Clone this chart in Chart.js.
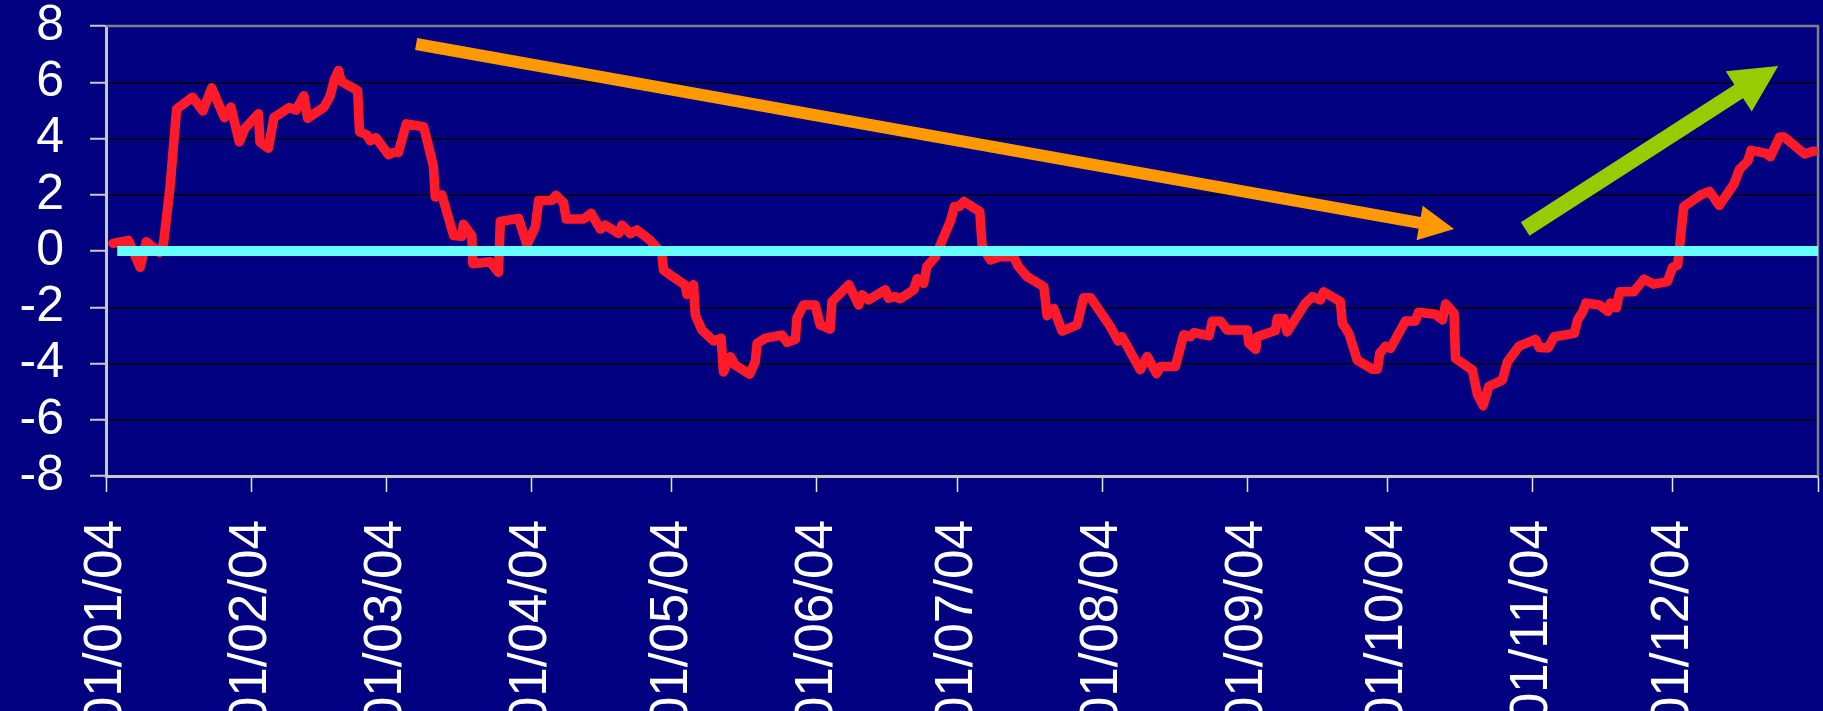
<!DOCTYPE html>
<html>
<head>
<meta charset="utf-8">
<script src="https://cdn.jsdelivr.net/npm/chart.js@4.4.1/dist/chart.umd.min.js"></script>
<style>
html,body{margin:0;padding:0;background:#000080;overflow:hidden;}
canvas{display:block;}
</style>
</head>
<body>
<canvas id="c" width="1823" height="711"></canvas>
<script>
// ---------- DATA (day of year 2004, 0 = 01/01/04) ----------
const days = [
  1.5, 4.8, 7.3, 8.6, 11.4, 12.3, 13.7, 15.1, 18.5, 20.7, 22.6, 25.3, 26.7, 28.5, 29.7,
  32.6, 32.9, 34.7, 35.9, 39.2, 40.6, 42.3, 43.1, 46.6, 47.9, 48.8, 49.7, 50.3, 53.8, 54.2,
  55.8, 56.5, 57.7, 60.4, 61.4, 62.5, 64.2, 67.9, 68.8, 70.0, 70.4, 71.8, 74.3, 76.1, 76.4,
  78.2, 78.4, 82.1, 83.9, 84.3, 88.2, 90.0, 91.8, 92.5, 95.3, 96.2, 97.8, 98.4, 102.1, 103.7,
  105.7, 106.7, 109.6, 110.3, 112.1, 113.5, 116.3, 118.8, 119.2, 120.6, 123.8, 124.2, 125.6, 126.0, 127.4,
  129.9, 131.5, 132.0, 133.5, 134.5, 137.6, 138.8, 139.2, 141.0, 144.5, 145.6, 147.4, 147.7, 149.1, 151.6,
  152.7, 154.8, 155.2, 158.8, 160.9, 161.6, 163.0, 166.6, 167.3, 168.7, 169.8, 172.7, 173.4, 174.8, 175.5,
  177.3, 180.5, 181.4, 182.4, 183.4, 186.8, 187.3, 189.1, 191.2, 194.0, 195.1, 196.9, 200.5, 201.2, 202.6,
  204.4, 207.6, 209.0, 210.5, 214.7, 216.4, 217.2, 221.1, 222.6, 224.6, 225.4, 228.6, 230.4, 231.8, 232.6,
  235.8, 236.5, 238.3, 239.7, 244.0, 244.3, 245.8, 246.1, 250.0, 250.4, 251.8, 252.5, 256.4, 257.9, 259.6,
  260.3, 263.9, 264.3, 265.7, 267.5, 270.7, 271.8, 272.3, 273.6, 274.6, 277.8, 279.9, 280.6, 284.2, 285.7,
  286.4, 288.2, 288.5, 292.1, 293.2, 294.4, 295.6, 298.5, 299.6, 302.1, 305.6, 306.4, 308.3, 309.6, 313.9,
  314.6, 315.7, 316.4, 319.3, 321.1, 321.6, 322.9, 323.6, 326.6, 328.8, 330.9, 333.8, 334.9, 336.0, 337.3,
  341.0, 342.8, 344.9, 348.1, 349.2, 351.0, 351.7, 354.9, 355.8, 357.8, 358.8, 363.1, 364.9, 365.2
];
const values = [
  0.27, 0.38, -0.58, 0.33, -0.06, 0.27, 2.29, 5.05, 5.47, 4.98, 5.80, 4.74, 5.12, 3.88, 4.36,
  4.88, 3.88, 3.65, 4.75, 5.10, 5.01, 5.52, 4.72, 5.11, 5.50, 6.08, 6.42, 6.03, 5.70, 4.24,
  4.12, 3.92, 4.03, 3.43, 3.50, 3.50, 4.52, 4.42, 3.83, 3.00, 1.92, 2.00, 0.55, 0.52, 0.95,
  0.55, -0.45, -0.38, -0.76, 1.05, 1.16, 0.22, 0.86, 1.80, 1.80, 1.98, 1.72, 1.14, 1.14, 1.34,
  0.78, 0.92, 0.62, 0.92, 0.62, 0.75, 0.39, -0.08, -0.68, -0.85, -1.21, -1.55, -1.20, -2.28, -2.81,
  -3.20, -3.10, -4.30, -3.76, -4.05, -4.38, -3.94, -3.28, -3.10, -2.99, -3.25, -3.14, -2.39, -1.92, -1.92,
  -2.63, -2.78, -1.80, -1.20, -1.92, -1.56, -1.74, -1.38, -1.68, -1.62, -1.70, -1.38, -0.98, -1.15, -0.55,
  -0.20, 1.05, 1.58, 1.58, 1.76, 1.40, 0.18, -0.32, -0.20, -0.20, -0.56, -0.91, -1.27, -2.30, -2.04,
  -2.85, -2.63, -1.66, -1.66, -2.69, -3.20, -3.05, -4.22, -3.75, -4.36, -4.11, -4.11, -2.98, -3.05, -2.90,
  -3.02, -2.50, -2.50, -2.81, -2.81, -3.28, -3.50, -3.05, -2.83, -2.40, -2.40, -2.88, -1.86, -1.62, -1.74,
  -1.45, -1.80, -2.57, -2.93, -3.88, -4.20, -4.20, -3.64, -3.38, -3.46, -2.49, -2.49, -2.18, -2.25, -2.45,
  -1.88, -2.22, -3.82, -4.23, -5.10, -5.50, -4.82, -4.59, -3.94, -3.38, -3.14, -3.43, -3.45, -3.05, -2.93,
  -2.45, -2.16, -1.85, -1.92, -2.15, -1.85, -2.02, -1.45, -1.45, -1.00, -1.18, -1.09, -0.58, -0.50, 1.58,
  2.00, 2.12, 1.62, 2.40, 2.90, 3.20, 3.58, 3.47, 3.35, 4.05, 4.05, 3.45, 3.55, 3.55
];
const zeroDays = [2.4, 366];
const zeroValues = [0, 0];

const tickDays = [0, 31, 60, 91, 121, 152, 182, 213, 244, 274, 305, 335, 366];
const tickLabels = ['01/01/04', '01/02/04', '01/03/04', '01/04/04', '01/05/04', '01/06/04',
  '01/07/04', '01/08/04', '01/09/04', '01/10/04', '01/11/04', '01/12/04', ''];

// Annotation arrows, endpoints in data coordinates (day, value)
const arrowFrom = [[66.3, 7.36], [303.4, 0.78]];
const arrowTo = [[288.2, 0.78], [357.5, 6.58]];

// ---------- STYLE ----------
const FONT = "'Liberation Sans', Arial, Helvetica, sans-serif";
const arrowStyles = [
  {color: '#FF9900', shaft: 12, headLen: 35, headHalf: 17.5},
  {color: '#99CC00', shaft: 16, headLen: 47, headHalf: 24}
];

function drawArrow(ctx, x1, y1, x2, y2, st) {
  const dx = x2 - x1, dy = y2 - y1, L = Math.hypot(dx, dy);
  const ux = dx / L, uy = dy / L, nx = -uy, ny = ux;
  const bx = x2 - ux * st.headLen, by = y2 - uy * st.headLen;
  const s = st.shaft / 2, h = st.headHalf;
  ctx.fillStyle = st.color;
  ctx.beginPath();
  ctx.moveTo(x1 + nx * s, y1 + ny * s);
  ctx.lineTo(bx + nx * s, by + ny * s);
  ctx.lineTo(bx + nx * h, by + ny * h);
  ctx.lineTo(x2, y2);
  ctx.lineTo(bx - nx * h, by - ny * h);
  ctx.lineTo(bx - nx * s, by - ny * s);
  ctx.lineTo(x1 - nx * s, y1 - ny * s);
  ctx.closePath();
  ctx.fill();
}

const framePlugin = {
  id: 'frame',
  beforeDatasetsDraw(chart) {
    const {ctx, chartArea: a} = chart;
    ctx.save();
    ctx.strokeStyle = '#808080';
    ctx.lineWidth = 2.5;
    ctx.beginPath();
    ctx.moveTo(a.left, a.top);
    ctx.lineTo(a.right, a.top);
    ctx.lineTo(a.right, a.bottom);
    ctx.stroke();
    ctx.restore();
  }
};

const arrowPlugin = {
  id: 'arrows',
  afterDatasetsDraw(chart) {
    const {ctx, scales: {x, y}} = chart;
    ctx.save();
    for (let i = 0; i < arrowFrom.length; i++) {
      drawArrow(ctx,
        x.getPixelForValue(arrowFrom[i][0]), y.getPixelForValue(arrowFrom[i][1]),
        x.getPixelForValue(arrowTo[i][0]), y.getPixelForValue(arrowTo[i][1]),
        arrowStyles[i]);
    }
    ctx.restore();
  }
};

new Chart(document.getElementById('c'), {
  type: 'line',
  data: {
    datasets: [
      {
        label: 'zero',
        data: zeroDays.map((d, i) => ({x: d, y: zeroValues[i]})),
        borderColor: '#66FFFF',
        borderWidth: 10,
        borderCapStyle: 'butt',
        pointRadius: 0,
        order: 0
      },
      {
        label: 'series',
        data: days.map((d, i) => ({x: d, y: values[i]})),
        borderColor: '#FF1A2A',
        borderWidth: 9.5,
        borderCapStyle: 'round',
        borderJoinStyle: 'round',
        pointRadius: 0,
        tension: 0,
        order: 1
      }
    ]
  },
  options: {
    responsive: false,
    animation: false,
    devicePixelRatio: 1,
    layout: {padding: {top: 26, right: 5, left: 0, bottom: 0}},
    plugins: {legend: {display: false}, tooltip: {enabled: false}},
    scales: {
      x: {
        type: 'linear',
        min: 0,
        max: 366,
        afterBuildTicks: (s) => { s.ticks = tickDays.map(v => ({value: v})); },
        afterFit: (s) => { s.height = 235; s.paddingLeft = 0; s.paddingRight = 0; },
        grid: {display: true, drawOnChartArea: false, drawTicks: true, tickLength: 16,
               tickColor: '#E8E8E8', tickWidth: 1.5},
        border: {display: true, color: '#C8C8C8', width: 3},
        ticks: {
          autoSkip: false,
          maxRotation: 90,
          minRotation: 90,
          padding: 28,
          color: '#FFFFFF',
          font: {family: FONT, size: 53, lineHeight: 1.1},
          callback: (v, i) => tickLabels[i]
        }
      },
      y: {
        min: -8,
        max: 8,
        afterFit: (s) => { s.width = 106; s.paddingTop = 0; s.paddingBottom = 0; },
        grid: {
          color: (c) => (c.tick && (c.tick.value === 8 || c.tick.value === -8 || c.tick.value === 0)) ? 'rgba(0,0,0,0)' : '#000000',
          lineWidth: 1.5,
          tickLength: 16,
          tickColor: '#C8C8C8',
          tickWidth: 2
        },
        border: {display: true, color: '#C8C8C8', width: 3},
        ticks: {
          stepSize: 2,
          autoSkip: false,
          padding: 26,
          color: '#FFFFFF',
          font: {family: FONT, size: 50, lineHeight: 1.0}
        }
      }
    }
  },
  plugins: [framePlugin, arrowPlugin]
});
</script>
</body>
</html>
